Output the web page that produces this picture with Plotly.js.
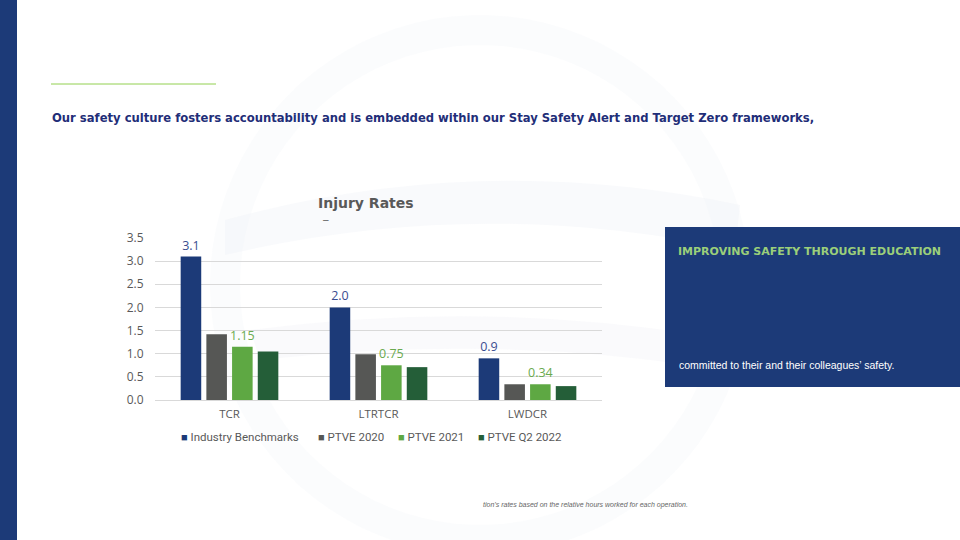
<!DOCTYPE html>
<html>
<head>
<meta charset="utf-8">
<script src="https://cdn.plot.ly/plotly-3.0.1.min.js"></script>
<style>html,body{margin:0;padding:0;background:#fff;}#chart{width:960px;height:540px;}</style>
</head>
<body>
<div id="chart"></div>
<script>
const categories = ["TCR", "LTRTCR", "LWDCR"];
const seriesNames = ["Industry Benchmarks", "PTVE 2020", "PTVE 2021", "PTVE Q2 2022"];
const industryBenchmarks = [3.1, 2.0, 0.9];
const ptve2020 = [1.42, 0.99, 0.34];
const ptve2021 = [1.15, 0.75, 0.34];
const ptveQ22022 = [1.05, 0.71, 0.30];
const industryLabels = ["3.1", "2.0", "0.9"];
const ptve2021Labels = ["1.15", "0.75", "0.34"];
const yTicks = [0, 0.5, 1.0, 1.5, 2.0, 2.5, 3.0, 3.5];

const W = 960, H = 540;
const px = x => x / W;
const py = y => 1 - y / H;

const colors = ["#1c3a78", "#565755", "#5ea843", "#245e38"];
const seriesValues = [industryBenchmarks, ptve2020, ptve2021, ptveQ22022];
const seriesLabels = [industryLabels, null, ptve2021Labels, null];
const labelColors = ["#3a4d90", null, "#6aaa4f", null];
const legendX = [179, 316, 396, 476];

const traces = seriesValues.map((vals, i) => {
  const t = {
    type: "bar",
    name: seriesNames[i],
    x: categories,
    y: vals,
    marker: {color: colors[i]},
    hoverinfo: "x+y+name",
    showlegend: false
  };
  if (seriesLabels[i]) {
    t.text = seriesLabels[i];
    t.texttemplate = "%{text}";
    t.textposition = "outside";
    t.constraintext = "none";
    t.cliponaxis = false;
    t.textfont = {family: "Open Sans, Arial, sans-serif", size: 12.5, color: labelColors[i]};
  } else {
    t.textposition = "none";
  }
  return t;
});

function ringPath(cx, cy, r1, r2) {
  const n = 90;
  let d = "";
  for (let k = 0; k <= n; k++) {
    const a = Math.PI * 2 * k / n;
    d += (k === 0 ? "M" : "L") + px(cx + r1 * Math.cos(a)) + "," + py(cy + r1 * Math.sin(a));
  }
  d += "Z";
  for (let k = 0; k <= n; k++) {
    const a = -Math.PI * 2 * k / n;
    d += (k === 0 ? "M" : "L") + px(cx + r2 * Math.cos(a)) + "," + py(cy + r2 * Math.sin(a));
  }
  d += "Z";
  return d;
}

const wm = "#eef0f6";
const shapes = [
  {type: "path", xref: "paper", yref: "paper", path: ringPath(480, 285, 270, 240), fillcolor: wm, opacity: 0.22, line: {width: 0}, layer: "below"},
  {type: "path", xref: "paper", yref: "paper",
   path: "M" + px(225) + "," + py(220) + " Q" + px(480) + "," + py(150) + " " + px(740) + "," + py(205) + " L" + px(735) + "," + py(250) + " Q" + px(480) + "," + py(195) + " " + px(225) + "," + py(255) + " Z",
   fillcolor: wm, opacity: 0.35, line: {width: 0}, layer: "below"},
  {type: "path", xref: "paper", yref: "paper",
   path: "M" + px(250) + "," + py(330) + " Q" + px(480) + "," + py(300) + " " + px(700) + "," + py(335) + " L" + px(690) + "," + py(365) + " Q" + px(480) + "," + py(335) + " " + px(260) + "," + py(360) + " Z",
   fillcolor: wm, opacity: 0.3, line: {width: 0}, layer: "below"},
  {type: "rect", xref: "paper", yref: "paper", x0: 0, x1: px(17), y0: 0, y1: 1, fillcolor: "#1c3a78", line: {width: 0}},
  {type: "line", xref: "paper", yref: "paper", x0: px(51), x1: px(216), y0: py(84), y1: py(84), line: {color: "#92d050", width: 1}},
  {type: "rect", xref: "paper", yref: "paper", x0: px(665), x1: 1, y0: py(387), y1: py(227), fillcolor: "#1c3a78", line: {width: 0}}
];

const annotations = [
  {xref: "paper", yref: "paper", x: px(50), y: py(118), xanchor: "left", yanchor: "middle", showarrow: false,
   text: "<b>Our safety culture fosters accountability and is embedded within our Stay Safety Alert and Target Zero frameworks,</b>",
   font: {family: "DejaVu Sans, Arial, sans-serif", size: 11.6, color: "#1f2e78"}},
  {xref: "paper", yref: "paper", x: px(366), y: py(203), xanchor: "center", yanchor: "middle", showarrow: false,
   text: "<b>Injury Rates</b>", font: {family: "DejaVu Sans, Arial, sans-serif", size: 14, color: "#595959"}},
  {xref: "paper", yref: "paper", x: px(326), y: py(219), xanchor: "center", yanchor: "middle", showarrow: false,
   text: "–", font: {family: "Liberation Sans, Arial, sans-serif", size: 10, color: "#595959"}},
  {xref: "paper", yref: "paper", x: px(676), y: py(251), xanchor: "left", yanchor: "middle", showarrow: false,
   text: "<b>IMPROVING SAFETY THROUGH EDUCATION</b>", font: {family: "DejaVu Sans, Arial, sans-serif", size: 11, color: "#9bcf7a"}},
  {xref: "paper", yref: "paper", x: px(677), y: py(365), xanchor: "left", yanchor: "middle", showarrow: false,
   text: "committed to their and their colleagues’ safety.", font: {family: "Liberation Sans, Arial, sans-serif", size: 10.5, color: "#ffffff"}},
  {xref: "paper", yref: "paper", x: px(481), y: py(505), xanchor: "left", yanchor: "middle", showarrow: false,
   text: "<i>tion’s rates based on the relative hours worked for each operation.</i>", font: {family: "Liberation Sans, Arial, sans-serif", size: 7, color: "#666666"}}
];

seriesNames.forEach((name, i) => {
  annotations.push({
    xref: "paper", yref: "paper", x: px(legendX[i]), y: py(437), xanchor: "left", yanchor: "middle", showarrow: false,
    text: '<span style="color:' + colors[i] + ';font-size:11px">■</span> ' + name,
    font: {family: "Roboto, Arial, sans-serif", size: 11.5, color: "#595959"}
  });
});

const layout = {
  width: W, height: H,
  margin: {l: 0, r: 0, t: 0, b: 0},
  paper_bgcolor: "#ffffff",
  plot_bgcolor: "rgba(0,0,0,0)",
  showlegend: false,
  barmode: "group",
  bargap: 0.31,
  bargroupgap: 0.2,
  font: {family: "Open Sans, Arial, sans-serif", size: 12, color: "#595959"},
  xaxis: {
    domain: [px(155), px(602)],
    anchor: "y",
    type: "category",
    range: [-0.5, 2.5],
    showgrid: false,
    showline: true, linecolor: "#d9d9d9", linewidth: 1,
    ticks: "outside", ticklen: 3, tickcolor: "rgba(0,0,0,0)",
    tickfont: {family: "Open Sans, Arial, sans-serif", size: 11.5, color: "#595959"},
    fixedrange: true
  },
  yaxis: {
    domain: [py(400), py(238)],
    anchor: "x",
    range: [0, 3.5],
    tickvals: yTicks,
    ticktext: yTicks.map(v => v.toFixed(1)),
    showgrid: true, gridcolor: "#d9d9d9", gridwidth: 1,
    zeroline: false,
    showline: false,
    ticks: "outside", ticklen: 8, tickcolor: "rgba(0,0,0,0)",
    tickfont: {family: "Open Sans, Arial, sans-serif", size: 12, color: "#595959"},
    fixedrange: true
  },
  shapes: shapes,
  annotations: annotations
};

Plotly.newPlot("chart", traces, layout, {displayModeBar: false, staticPlot: true});
</script>
</body>
</html>
